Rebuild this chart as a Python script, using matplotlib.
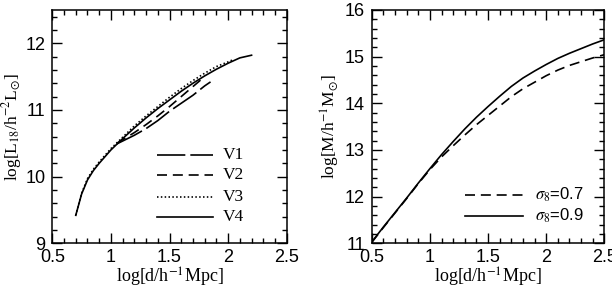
import matplotlib
matplotlib.use("Agg")
import matplotlib.pyplot as plt
from matplotlib.ticker import MultipleLocator

# ---- Left panel data: log L18 vs log d ----
v4_x = [0.70, 0.75, 0.80, 0.85, 0.90, 1.00, 1.10, 1.20, 1.30, 1.40, 1.50, 1.60, 1.70, 1.80, 1.90, 2.00, 2.10, 2.20]
v4_y = [9.42, 9.74, 9.95, 10.09, 10.20, 10.40, 10.57, 10.73, 10.88, 11.02, 11.15, 11.28, 11.40, 11.51, 11.61, 11.70, 11.78, 11.82]
v3_x = [0.70, 0.75, 0.80, 0.85, 0.90, 1.00, 1.10, 1.20, 1.30, 1.40, 1.50, 1.60, 1.70, 1.80, 1.90, 2.00, 2.05]
v3_y = [9.42, 9.75, 9.97, 10.11, 10.22, 10.42, 10.59, 10.76, 10.91, 11.05, 11.19, 11.32, 11.44, 11.55, 11.65, 11.72, 11.76]
v1_x = [1.05, 1.20, 1.30, 1.40, 1.50, 1.60, 1.70, 1.80, 1.85]
v1_y = [10.49, 10.62, 10.72, 10.84, 10.98, 11.10, 11.22, 11.36, 11.42]
v2_x = [1.05, 1.20, 1.30, 1.40, 1.50, 1.60, 1.70, 1.80]
v2_y = [10.50, 10.66, 10.78, 10.91, 11.05, 11.20, 11.35, 11.50]
left_labels = ["V1", "V2", "V3", "V4"]

# ---- Right panel data: log M vs log d ----
m_x = [0.5, 0.6, 0.7, 0.8, 0.9, 1.0, 1.1, 1.2, 1.3, 1.4, 1.5, 1.6, 1.7, 1.8, 1.9, 2.0, 2.1, 2.2, 2.3, 2.4, 2.5]
m09_y = [11.03, 11.35, 11.66, 11.97, 12.29, 12.60, 12.90, 13.18, 13.45, 13.70, 13.93, 14.15, 14.36, 14.54, 14.69, 14.83, 14.96, 15.07, 15.17, 15.27, 15.36]
m07_y = [11.02, 11.34, 11.65, 11.96, 12.28, 12.58, 12.85, 13.09, 13.32, 13.54, 13.74, 13.94, 14.14, 14.31, 14.45, 14.59, 14.71, 14.81, 14.89, 14.97, 15.04]
right_labels = [r"$\sigma_8$=0.7", r"$\sigma_8$=0.9"]

plt.rcParams["mathtext.fontset"] = "stix"
tickfont = "Liberation Sans"
labfont = "Liberation Serif"

fig = plt.figure(figsize=(6.12, 2.9), dpi=100)
axL = fig.add_axes([0.0855, 0.161, 0.383, 0.805])
axR = fig.add_axes([0.6075, 0.161, 0.380, 0.805])

lw = 1.2
styles = {
    "V1": dict(dashes=(17, 3)),
    "V2": dict(dashes=(6, 3.5)),
    "V3": dict(dashes=(0.9, 1.4)),
    "V4": dict(),
}

axL.plot(v1_x, v1_y, color="black", lw=lw, **styles["V1"])
axL.plot(v2_x, v2_y, color="black", lw=lw, **styles["V2"])
axL.plot(v3_x, v3_y, color="black", lw=lw, **styles["V3"])
axL.plot(v4_x, v4_y, color="black", lw=lw, **styles["V4"])

axR.plot(m_x, m07_y, color="black", lw=lw, dashes=(6, 3.5))
axR.plot(m_x, m09_y, color="black", lw=lw)

# manual legends
leg_y = [0.378, 0.293, 0.198, 0.113]
for lab, yy in zip(left_labels, leg_y):
    axL.plot([0.447, 0.686], [yy, yy], transform=axL.transAxes, color="black", lw=lw, **styles[lab])
    axL.text(0.728, yy, lab, transform=axL.transAxes, va="center", ha="left",
             fontsize=12.5, family=labfont)

rstyles = [dict(dashes=(6, 3.5)), dict()]
for lab, yy, st in zip(right_labels, [0.207, 0.117], rstyles):
    axR.plot([0.401, 0.650], [yy, yy], transform=axR.transAxes, color="black", lw=lw, **st)
    axR.text(0.702, yy, lab, transform=axR.transAxes, va="center", ha="left",
             fontsize=12, family=tickfont)

for ax in (axL, axR):
    ax.set_xlim(0.5, 2.5)
    ax.xaxis.set_major_locator(MultipleLocator(0.5))
    ax.xaxis.set_minor_locator(MultipleLocator(0.1))
    ax.yaxis.set_major_locator(MultipleLocator(1))
    ax.yaxis.set_minor_locator(MultipleLocator(0.2))
    ax.tick_params(which="both", direction="in", top=True, right=True, width=1.0)
    ax.tick_params(which="major", length=7, labelsize=13)
    ax.tick_params(axis="x", which="major", pad=4)
    ax.tick_params(axis="y", which="major", pad=5)
    ax.tick_params(which="minor", length=3.5)
    for s in ax.spines.values():
        s.set_linewidth(1.1)
    ax.set_xlabel(r"log[d/h$^{-1}$Mpc]", fontsize=13, family=labfont, labelpad=0)

axL.set_ylim(9, 12.5)
axR.set_ylim(11, 16)
axL.set_xticks([0.5, 1, 1.5, 2, 2.5])
axL.set_xticklabels(["0.5", "1", "1.5", "2", "2.5"], family=tickfont)
axR.set_xticks([0.5, 1, 1.5, 2, 2.5])
axR.set_xticklabels(["0.5", "1", "1.5", "2", "2.5"], family=tickfont)
axL.set_yticks([9, 10, 11, 12])
axL.set_yticklabels(["9", "10", "11", "12"], family=tickfont)
axR.set_yticks([11, 12, 13, 14, 15, 16])
axR.set_yticklabels(["11", "12", "13", "14", "15", "16"], family=tickfont)

axL.set_ylabel(r"log[L$_{18}$/h$^{-2}$L$_{\odot}$]", fontsize=12.5, family=labfont, labelpad=1)
axR.set_ylabel(r"log[M/h$^{-1}$M$_{\odot}$]", fontsize=12.5, family=labfont, labelpad=2)

fig.savefig("out.png", dpi=100)
